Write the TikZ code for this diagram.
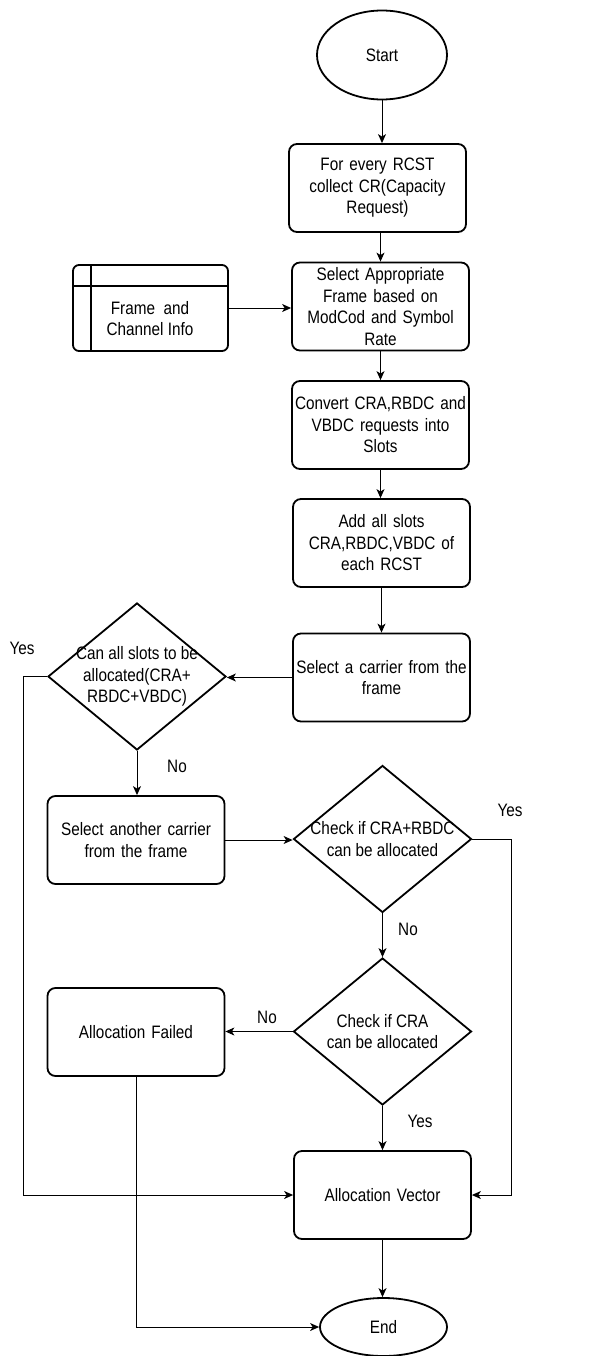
\documentclass[tikz,border=0pt]{standalone}
\usepackage{fontspec}
\setmainfont{Liberation Sans}[FakeStretch=0.85]
\usetikzlibrary{shapes.geometric,arrows.meta}
\begin{document}
\begin{tikzpicture}[x=1pt,y=-1pt,
  every node/.style={font=\fontsize{18}{21.5}\selectfont},
  proc/.style={draw,line width=1.8pt,rounded corners=8pt,minimum width=177pt,minimum height=88pt,inner sep=0pt,text width=172pt,align=center},
  term/.style={draw,line width=1.8pt,ellipse,inner sep=0pt},
  dec/.style={draw,line width=1.8pt,diamond,inner sep=0pt,minimum width=178pt,minimum height=147pt},
  lbl/.style={inner sep=0pt,align=center},
  conn/.style={line width=1pt,-{Stealth[length=9pt,width=8pt,inset=2.5pt]}}]
\useasboundingbox (0,0) rectangle (603,1356);

\node[term,minimum width=130pt,minimum height=89pt] (start) at (382,55) {Start};
\node[proc] (b1) at (377.5,188) {For every RCST\\collect CR(Capacity\\Request)};
\node[proc] (b2) at (380.5,306.5) {Select Appropriate\\Frame based on\\ModCod and Symbol\\Rate};
\node[proc] (b3) at (380.5,425) {Convert CRA,RBDC and\\VBDC requests into\\Slots};
\node[proc] (b4) at (381.5,543) {Add all slots\\CRA,RBDC,VBDC of\\each RCST};
\node[proc] (b5) at (381.5,677.5) {Select a carrier from the\\frame};
\node[dec] (d1) at (137,676.5) {};
\node[lbl] (d1t) at (d1) {Can all slots to be\\allocated(CRA+\\RBDC+VBDC)};
\node[proc] (b6) at (136,840) {Select another carrier\\from the frame};
\node[dec] (d2) at (382.5,839) {};
\node[lbl] (d2t) at (d2) {Check if CRA+RBDC\\can be allocated};
\node[dec] (d3) at (382.5,1031.5) {};
\node[lbl] (d3t) at (d3) {Check if CRA\\can be allocated};
\node[proc] (af) at (136,1032) {Allocation Failed};
\node[proc] (av) at (382.5,1195) {Allocation Vector};
\node[term,minimum width=127pt,minimum height=58pt] (end) at (383.5,1327) {End};

\node[draw,line width=1.8pt,rounded corners=6pt,minimum width=155pt,minimum height=86pt,inner sep=0pt] (fi) at (150.5,308) {};
\draw[line width=1.8pt] ([xshift=19pt]fi.north west) -- ([xshift=19pt]fi.south west);
\draw[line width=1.8pt] ([yshift=-22pt]fi.north west) -- ([yshift=-22pt]fi.north east);
\node[lbl] (fit) at (150,318.5) {Frame\ \ and\\Channel Info};

\node[lbl] (y1) at (22,648) {Yes};
\node[lbl] (n1) at (177,766) {No};
\node[lbl] (y2) at (510,810) {Yes};
\node[lbl] (n2) at (408,929) {No};
\node[lbl] (n3) at (267,1017) {No};
\node[lbl] (y3) at (420,1121) {Yes};

\coordinate (cl) at (23,676.5);
\coordinate (cr) at (511,839);

\draw[conn] (start.south) -- (start.south |- b1.north);
\draw[conn] (b2.north |- b1.south) -- (b2.north);
\draw[conn] (fi.east) -- (fi.east -| b2.west);
\draw[conn] (b2.south) -- (b2.south |- b3.north);
\draw[conn] (b3.south) -- (b3.south |- b4.north);
\draw[conn] (b4.south) -- (b4.south |- b5.north);
\draw[conn] (b5.west) -- (b5.west -| d1.east);
\draw[conn] (d1.west) -- (cl) |- (av.west);
\draw[conn] (d1.south) -- (d1.south |- b6.north);
\draw[conn] (b6.east) -- (b6.east -| d2.west);
\draw[conn] (d2.east) -- (cr) |- (av.east);
\draw[conn] (d2.south) -- (d3.north);
\draw[conn] (d3.west) -- (d3.west -| af.east);
\draw[conn] (d3.south) -- (d3.south |- av.north);
\draw[conn] (av.south) -- (av.south |- end.north);
\draw[conn] (af.south) |- (end.west);
\end{tikzpicture}
\end{document}
